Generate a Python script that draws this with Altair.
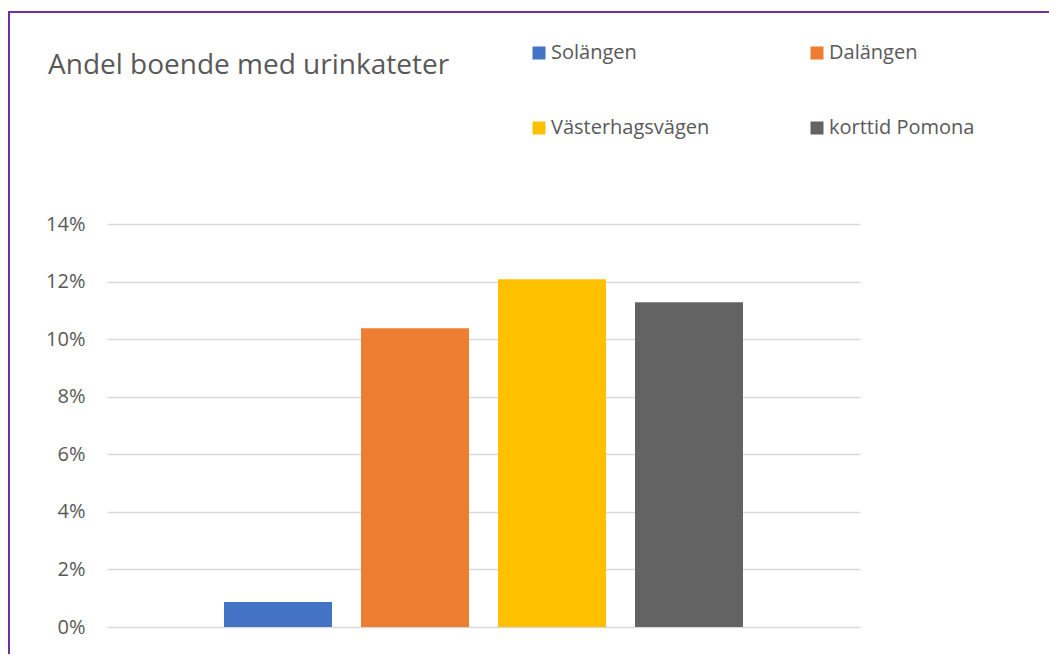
import altair as alt
import pandas as pd

series = ["Solängen", "Dalängen", "Västerhagsvägen", "korttid Pomona"]
values = [0.0087, 0.1038, 0.1208, 0.1128]
colors = ["#4472C4", "#ED7D31", "#FFC000", "#636363"]
y_ticks = [0, 0.02, 0.04, 0.06, 0.08, 0.10, 0.12, 0.14]

FONT = "Open Sans"
TXT = "#595959"

df = pd.DataFrame({"series": series, "value": values})

bars = alt.Chart(df).mark_bar().encode(
    x=alt.X("series:N", sort=series, axis=None,
            scale=alt.Scale(paddingInner=0.2117, paddingOuter=0.854)),
    y=alt.Y("value:Q", scale=alt.Scale(domain=[0, 0.14], nice=False),
            axis=alt.Axis(values=y_ticks, format=".0%", title=None, domain=False,
                          ticks=False, labelPadding=22, labelFontSize=20,
                          labelFont=FONT, labelColor=TXT, gridColor="#D9D9D9",
                          gridWidth=1.5)),
    color=alt.Color("series:N", sort=series,
                    scale=alt.Scale(domain=series, range=colors),
                    legend=alt.Legend(title=None, orient="none", legendX=422, legendY=-181,
                                      direction="horizontal",
                                      columns=2, columnPadding=97, rowPadding=55,
                                      symbolType="square", symbolSize=169,
                                      symbolStrokeWidth=0, labelOffset=2,
                                      labelFontSize=20, labelFont=FONT,
                                      labelColor=TXT, padding=0)),
)

border = alt.Chart(pd.DataFrame({"b": [0]})).mark_rect(
    fill="transparent", stroke="#7030A0", strokeWidth=2
).encode(x=alt.value(-98), x2=alt.value(1200), y=alt.value(-212), y2=alt.value(1000))

chart = alt.layer(border, bars).properties(
    width=753, height=403,
    autosize=alt.AutoSizeParams(type="none"),
    padding={"left": 99, "top": 216, "right": 189, "bottom": 27},
    title=alt.TitleParams("Andel boende med urinkateter", anchor="start", frame="group",
                          fontSize=28, font=FONT, color=TXT, fontWeight="normal",
                          baseline="alphabetic", offset=0, dx=-59, dy=91),
).configure_view(stroke=None)

chart.save("out.html", embed_options={"renderer": "svg", "actions": False})
